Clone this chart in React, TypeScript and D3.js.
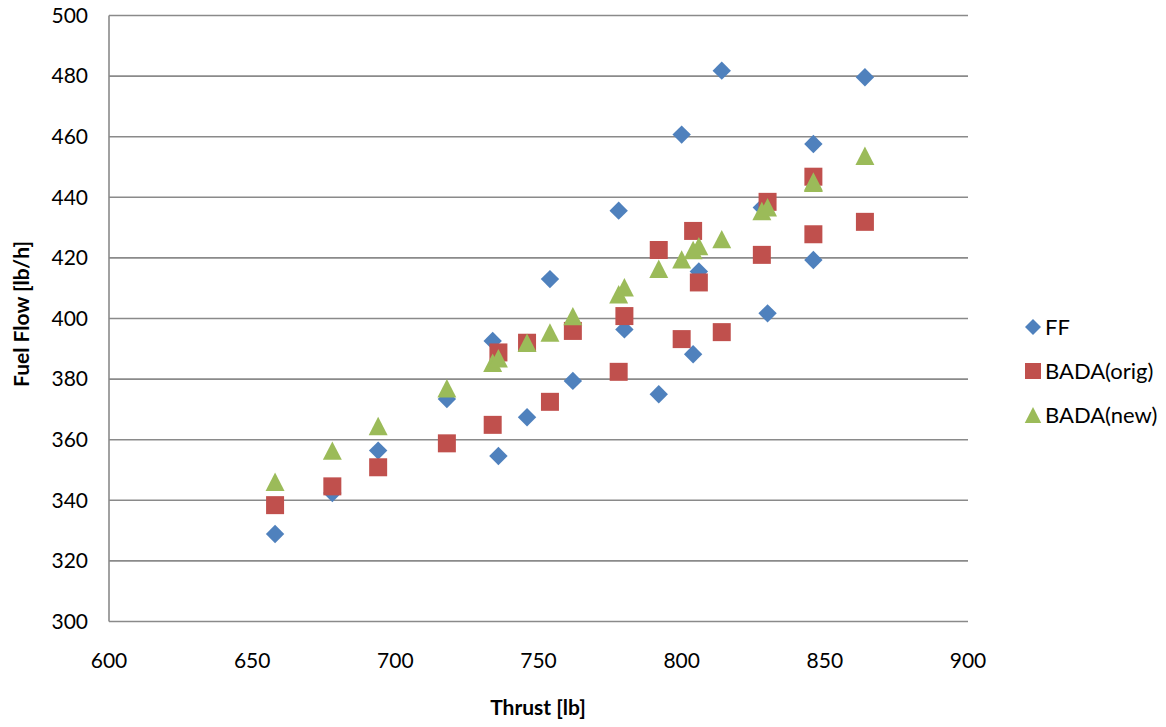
import React from 'react';
import * as d3 from 'd3';

// Thrust [lb] (shared x values of all three series)
const thrust = [658, 678, 694, 718, 734, 736, 746, 754, 762, 778, 780, 792, 800, 804, 806, 814, 828, 830, 846, 846, 864];
// Fuel Flow [lb/h]
const ff = [328.9, 342.4, 356.4, 373.4, 392.6, 354.6, 367.4, 413.0, 379.4, 435.6, 396.4, 375.0, 460.7, 388.2, 415.5, 481.8, 436.6, 401.7, 457.6, 419.3, 479.6];
const badaOrig = [338.4, 344.6, 350.9, 358.8, 364.9, 388.8, 392.0, 372.5, 395.9, 382.4, 400.8, 422.6, 393.2, 428.9, 411.9, 395.5, 421.0, 438.5, 446.8, 427.8, 431.9];
const badaNew = [346.1, 356.4, 364.5, 377.0, 385.4, 386.9, 392.0, 395.4, 400.8, 408.0, 410.3, 416.4, 419.5, 422.6, 423.9, 426.2, 435.5, 436.7, 444.8, 445.2, 453.7];

const seriesNames = ['FF', 'BADA(orig)', 'BADA(new)'];
const seriesColors = ['#4F81BD', '#C0504D', '#9BBB59'];
const xTicks = [600, 650, 700, 750, 800, 850, 900];
const yTicks = [300, 320, 340, 360, 380, 400, 420, 440, 460, 480, 500];

const FONT = 'Lato, "Open Sans", sans-serif';

function markerPath(kind: number, s: number): string {
  if (kind === 0) return `M0,${-s}L${s},0L0,${s}L${-s},0Z`;
  if (kind === 1) return `M${-s},${-s}L${s},${-s}L${s},${s}L${-s},${s}Z`;
  return `M0,${-s}L${s * 1.03},${s}L${-s * 1.03},${s}Z`;
}

export default function App() {
  const W = 1166;
  const H = 727;
  const x = d3.scaleLinear().domain([600, 900]).range([109, 968]);
  const y = d3.scaleLinear().domain([300, 500]).range([621.5, 15.5]);
  const series = [ff, badaOrig, badaNew];
  const sizes = [9.2, 9, 9.2];
  const legendY = [327, 371, 415];

  return (
    <div style={{ position: 'fixed', left: 0, top: 0, width: W, height: H, background: '#fff' }}>
      <svg width={W} height={H} style={{ display: 'block' }}>
        <rect x={0} y={0} width={W} height={H} fill="#fff" />
        {/* gridlines */}
        {yTicks.map((t) => (
          <line key={'g' + t} x1={x(600)} x2={x(900)} y1={y(t)} y2={y(t)} stroke="#8a8a8a" strokeWidth={1.6} />
        ))}
        {/* y axis line */}
        <line x1={x(600)} x2={x(600)} y1={y(300)} y2={y(500)} stroke="#8a8a8a" strokeWidth={1.6} />
        {/* y tick labels */}
        {yTicks.map((t) => (
          <text key={'yl' + t} x={88} y={y(t)} dy="0.35em" textAnchor="end" fontFamily={FONT} fontSize={21} fill="#000">
            {t}
          </text>
        ))}
        {/* x tick labels */}
        {xTicks.map((t) => (
          <text key={'xl' + t} x={x(t)} y={661} dy="0.35em" textAnchor="middle" fontFamily={FONT} fontSize={21} fill="#000">
            {t}
          </text>
        ))}
        {/* axis titles */}
        <text x={538} y={708} dy="0.35em" textAnchor="middle" fontFamily={FONT} fontWeight="bold" fontSize={21} fill="#000">
          Thrust [lb]
        </text>
        <text
          transform={`translate(22,314) rotate(-90)`}
          dy="0.35em"
          textAnchor="middle"
          fontFamily={FONT}
          fontWeight="bold"
          fontSize={21}
          fill="#000"
        >
          Fuel Flow [lb/h]
        </text>
        {/* markers */}
        {series.map((vals, si) => (
          <g key={'s' + si} fill={seriesColors[si]}>
            {vals.map((v, i) => (
              <path key={i} d={markerPath(si, sizes[si])} transform={`translate(${x(thrust[i])},${y(v)})`} />
            ))}
          </g>
        ))}
        {/* legend */}
        {seriesNames.map((name, si) => (
          <g key={'lg' + si} transform={`translate(1033,${legendY[si]})`}>
            <path d={markerPath(si, 8)} fill={seriesColors[si]} />
            <text x={12} y={0} dy="0.35em" fontFamily={FONT} fontSize={22} fill="#000">
              {name}
            </text>
          </g>
        ))}
      </svg>
    </div>
  );
}
